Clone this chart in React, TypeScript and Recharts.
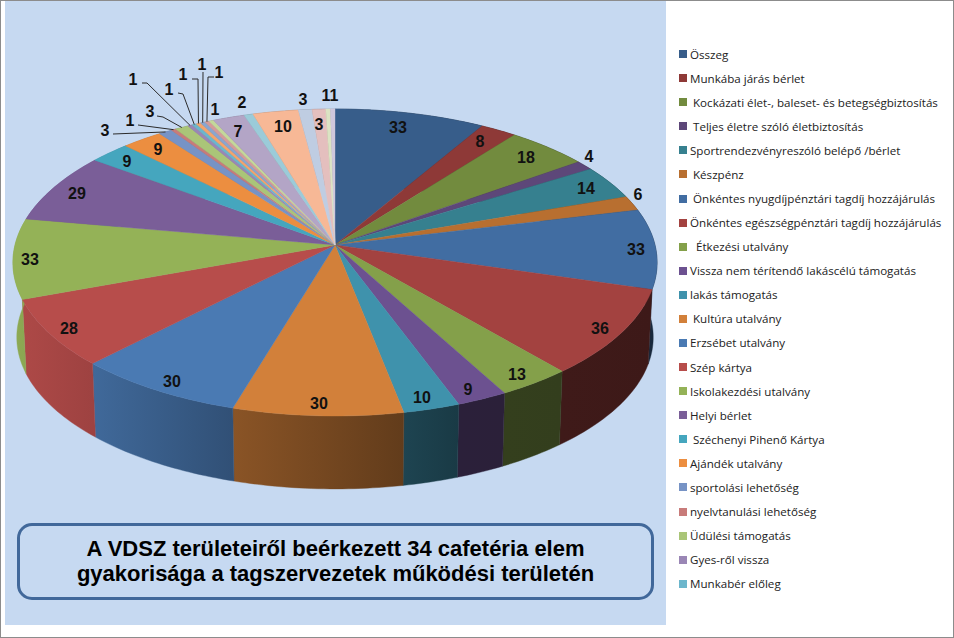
/**
 * Cafetéria elemek gyakorisága - 3D hatású kördiagram
 * A Pie adja a szögeket, a formát a sectorShape / wallShape vetíti.
 */
import React from 'react';
import { PieChart, Pie, Legend } from 'recharts';

// csak az első 23 szelet szerepel a jelmagyarázatban
const categories = [
    'Összeg',
    'Munkába járás bérlet',
    ' Kockázati élet-, baleset- és betegségbiztosítás',
    ' Teljes életre szóló életbiztosítás',
    'Sportrendezvényreszóló belépő /bérlet',
    ' Készpénz',
    ' Önkéntes nyugdíjpénztári tagdíj hozzájárulás',
    'Önkéntes egészségpénztári tagdíj hozzájárulás',
    '  Étkezési utalvány',
    'Vissza nem térítendő lakáscélú támogatás',
    'lakás támogatás',
    ' Kultúra utalvány',
    'Erzsébet utalvány',
    'Szép kártya',
    'Iskolakezdési utalvány',
    'Helyi bérlet',
    ' Széchenyi Pihenő Kártya',
    'Ajándék utalvány',
    'sportolási lehetőség',
    'nyelvtanulási lehetőség',
    'Üdülési támogatás',
    'Gyes-ről vissza',
    'Munkabér előleg',
];

const values = [
    33, 8, 18, 4, 14, 6, 33, 36, 13, 9, 10, 30, 30, 28, 33, 29, 9, 9,
    3, 1, 3, 1, 1, 1, 1, 1, 1, 7, 2, 10, 3, 3, 1, 1,
];

const colors = [
    '#375D8A', '#8E3937', '#728B3E', '#5D4779', '#36808F', '#B86F30',
    '#416DA2', '#A34240', '#84A04A', '#6C5190', '#3F92AC', '#D2803A',
    '#4A7AB3', '#B74D4B', '#94B257', '#7A5E98', '#45A6BE', '#EC8E40',
    '#7793C5', '#C87B7A', '#AAC578', '#9A86B5', '#6CB6CC', '#F4A46C',
    '#8AA6CF', '#D49B9A', '#C4D89A', '#B3A5C6', '#9BCBD9', '#F7B896',
    '#BFCDE2', '#E4BFBE', '#DBE3C3', '#CFC7DC',
];

// kézzel elhelyezett címkék középpontjai, szeletenként
const labelSpots: [number, number][] = [
    [398, 127], [480, 141], [526, 157], [589, 156], [586, 188], [638, 194],
    [636, 249], [600, 328], [517, 374], [468, 389], [422, 397], [319, 403],
    [172, 381], [69, 328], [30, 259], [77, 193], [127, 161], [158, 149],
    [105, 130], [130, 120], [150, 111], [133, 79], [169, 89], [183, 74],
    [202, 64], [219, 72], [215, 109], [238, 131], [242, 102], [283, 126],
    [303, 99], [319, 124], [326, 95], [334, 95],
];

// vezetővonalak töréspontjai (a szelet pereme a Pie szögéből jön)
const leaderPoints: Record<number, [number, number][]> = {
    18: [[113, 134]],
    19: [[138, 125]],
    20: [[157, 116], [163, 117]],
    21: [[142, 83], [147, 83]],
    22: [[178, 93], [183, 94]],
    23: [[192, 79], [198, 79]],
    24: [[203, 72]],
    25: [[214, 77], [208, 77]],
};

const pieData = values.map((value, i) => ({
    name: categories[i] ?? '',
    value,
    fill: colors[i],
}));

const CX = 335;
const CY = 245;
const RADIUS = 320;
const TILT = 151.5 / 320;
const PERSPECTIVE = 0.114;
const WALL_DROP = 75;
const WALL_SHRINK = 0.988;

// Recharts szög (fok, 90 = fent, óramutató szerint csökken) -> képernyő
function project(
    cx: number,
    cy: number,
    r: number,
    angle: number,
    drop = 0,
    shrink = 1,
): [number, number] {
    const t = ((90 - angle) * Math.PI) / 180;
    const xn = Math.sin(t);
    const yn = -Math.cos(t);
    const w = 1 / (1 - PERSPECTIVE * yn);
    return [cx + r * shrink * xn * w, cy + drop + r * TILT * shrink * yn * w];
}

function arcPoints(p: any, drop = 0, shrink = 1) {
    const { cx, cy, outerRadius, startAngle, endAngle } = p;
    const steps = Math.max(2, Math.ceil(Math.abs(endAngle - startAngle)));
    const pts: [number, number][] = [];
    for (let i = 0; i <= steps; i++) {
        const a = startAngle + ((endAngle - startAngle) * i) / steps;
        pts.push(project(cx, cy, outerRadius, a, drop, shrink));
    }
    return pts;
}

const toPath = (pts: [number, number][]) =>
    pts.map((q, i) => `${i ? 'L' : 'M'}${q[0].toFixed(2)},${q[1].toFixed(2)}`).join(' ');

function sectorShape(p: any) {
    const pts = arcPoints(p);
    const d = `M${p.cx},${p.cy} ${toPath(pts).replace('M', 'L')} Z`;
    return <path d={d} fill={p.fill} stroke={p.fill} strokeWidth={0.4} />;
}

// oldalfal fényereje balról jobbra sötétedik
const shadeStops: [number, number][] = [
    [0, 0.97], [95, 0.86], [232, 0.66], [403, 0.47], [455, 0.4], [700, 0.37],
];

function shadeAt(x: number) {
    for (let i = 1; i < shadeStops.length; i++) {
        const [x0, s0] = shadeStops[i - 1];
        const [x1, s1] = shadeStops[i];
        if (x <= x1) return s0 + ((s1 - s0) * (x - x0)) / (x1 - x0);
    }
    return 0.37;
}

function darken(hex: string, f: number) {
    const n = parseInt(hex.slice(1), 16);
    const c = [(n >> 16) & 255, (n >> 8) & 255, n & 255].map((v) => Math.round(v * f));
    return `rgb(${c[0]},${c[1]},${c[2]})`;
}

function wallShape(p: any) {
    const top = arcPoints(p);
    const bottom = arcPoints(p, WALL_DROP, WALL_SHRINK).reverse();
    const d = `${toPath(top)} ${toPath(bottom).replace('M', 'L')} Z`;
    const xs = top.map((q) => q[0]);
    const x1 = Math.min(...xs);
    const x2 = Math.max(...xs);
    const id = `wall-${Math.round(p.startAngle * 100)}`;
    return (
        <g>
            <defs>
                <linearGradient id={id} gradientUnits="userSpaceOnUse" x1={x1} x2={x2 + 0.01} y1={0} y2={0}>
                    <stop offset="0" stopColor={darken(p.fill, shadeAt(x1))} />
                    <stop offset="1" stopColor={darken(p.fill, shadeAt(x2))} />
                </linearGradient>
            </defs>
            <path d={d} fill={`url(#${id})`} stroke={`url(#${id})`} strokeWidth={0.4} />
        </g>
    );
}

function renderLabel(p: any) {
    const { index, cx, cy, outerRadius, midAngle, value } = p;
    const [x, y] = labelSpots[index];
    const elbows = leaderPoints[index];
    const edge = project(cx, cy, outerRadius, midAngle);
    return (
        <g key={index}>
            {elbows && (
                <polyline
                    points={[...elbows, edge].map((q) => q.join(',')).join(' ')}
                    fill="none"
                    stroke="#2b2b2b"
                    strokeWidth={1}
                />
            )}
            <text
                x={x}
                y={y}
                textAnchor="middle"
                dominantBaseline="central"
                fontFamily="'Liberation Sans', Arial, sans-serif"
                fontWeight={700}
                fontSize={16}
                fill="#111"
            >
                {value}
            </text>
        </g>
    );
}

function renderLegend({ payload }: any) {
    const rows = (payload ?? []).slice(0, categories.length);
    return (
        <div style={{ width: 272 }}>
            {rows.map((entry: any, i: number) => (
                <div key={i} style={{ height: 24.09, display: 'flex', alignItems: 'center' }}>
                    <span style={{ width: 8, height: 8, marginRight: 3, background: entry.color, flex: 'none' }} />
                    <span
                        style={{
                            whiteSpace: 'pre',
                            fontFamily: "'Open Sans', sans-serif",
                            fontSize: 11.6,
                            color: '#222',
                        }}
                    >
                        {entry.value}
                    </span>
                </div>
            ))}
        </div>
    );
}

export default function App() {
    return (
        <div style={{ position: 'absolute', left: 0, top: 0, width: 954, height: 638, background: '#fff', overflow: 'hidden' }}>
            {/* keret és kék rajzterület */}
            <div style={{ position: 'absolute', inset: 0, border: '1px solid #8c8c8c', boxSizing: 'border-box' }} />
            <div style={{ position: 'absolute', left: 5, top: 1, width: 661, height: 624, background: '#C6D9F1' }} />

            <div style={{ position: 'absolute', left: 0, top: 0 }}>
                <PieChart width={954} height={638} margin={{ top: 0, right: 0, bottom: 0, left: 0 }}>
                    <Pie
                        data={pieData}
                        dataKey="value"
                        nameKey="name"
                        cx={CX}
                        cy={CY}
                        outerRadius={RADIUS}
                        startAngle={90}
                        endAngle={-270}
                        legendType="none"
                        shape={wallShape}
                        stroke="none"
                        isAnimationActive={false}
                    />
                    <Pie
                        data={pieData}
                        dataKey="value"
                        nameKey="name"
                        cx={CX}
                        cy={CY}
                        outerRadius={RADIUS}
                        startAngle={90}
                        endAngle={-270}
                        shape={sectorShape}
                        stroke="none"
                        label={renderLabel}
                        labelLine={false}
                        isAnimationActive={false}
                    />
                    <Legend
                        content={renderLegend}
                        layout="vertical"
                        itemSorter={null}
                        wrapperStyle={{ position: 'absolute', left: 679, top: 42, width: 272, bottom: 'auto' }}
                    />
                </PieChart>
            </div>

            {/* cím doboz */}
            <div
                style={{
                    position: 'absolute',
                    left: 17,
                    top: 523,
                    width: 637,
                    height: 77,
                    boxSizing: 'border-box',
                    border: '3px solid #41689A',
                    borderRadius: 15,
                    background: '#C6D9F1',
                    display: 'flex',
                    flexDirection: 'column',
                    alignItems: 'center',
                    justifyContent: 'center',
                    fontFamily: "'Liberation Sans', Arial, sans-serif",
                    fontWeight: 700,
                    fontSize: 22,
                    lineHeight: '25px',
                    color: '#000',
                }}
            >
                <div style={{ marginTop: -1 }}>A VDSZ területeiről beérkezett 34 cafetéria elem</div>
                <div>gyakorisága a tagszervezetek működési területén</div>
            </div>
        </div>
    );
}
